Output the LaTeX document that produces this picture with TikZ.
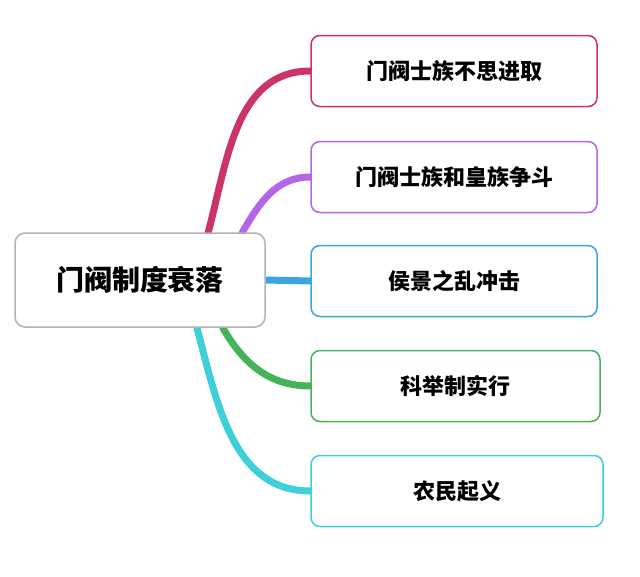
\documentclass[tikz,border=0pt]{standalone}
\usepackage{fontspec}
\newfontfamily\cjk{Noto Sans CJK SC}
\usetikzlibrary{positioning, backgrounds}
\tikzset{
  leaf/.style={draw=#1, line width=1.5pt, rounded corners=9pt, fill=white,
    minimum width=286pt, minimum height=71pt, font=\cjk\bfseries\fontsize{22}{26}\selectfont},
  branch/.style={draw=#1, line width=7pt, line cap=round}
}
\definecolor{rose}{HTML}{CC3366}
\definecolor{violet}{HTML}{B565E8}
\definecolor{sky}{HTML}{3AA6E0}
\definecolor{leafgreen}{HTML}{45B35A}
\definecolor{aqua}{HTML}{3ECFD8}
\begin{document}
\begin{tikzpicture}[x=1pt,y=-1pt]
\node[leaf=rose] (a) at (454,71) {门阀士族不思进取};
\node[leaf=violet] (b) at (454,177) {门阀士族和皇族争斗};
\node[leaf=sky] (c) at (454,281) {侯景之乱冲击};
\node[leaf=leafgreen, minimum width=289pt] (d) at (455.5,386) {科举制实行};
\node[leaf=aqua, minimum width=292pt] (e) at (457,491) {农民起义};
\node[draw=gray!60, line width=1.5pt, rounded corners=10pt, fill=white,
  minimum width=250pt, minimum height=94pt, font=\cjk\bfseries\fontsize{28}{32}\selectfont]
  (root) at (140,280) {门阀制度衰落};

%branches
\begin{scope}[on background layer]
\fill[white] (0,0) rectangle (640,576);
\draw[branch=rose] (root.35) to[out=75,in=180] (a.west);
\draw[branch=violet] (root.25) to[out=60,in=180] (b.west);
\draw[branch=sky] (root.east) to (c.west);
\draw[branch=leafgreen] (root.-30) to[out=-60,in=180] (d.west);
\draw[branch=aqua] (root.-40) to[out=-75,in=180] (e.west);
\end{scope}
\useasboundingbox (0,0) rectangle (640,576);
\end{tikzpicture}
\end{document}
